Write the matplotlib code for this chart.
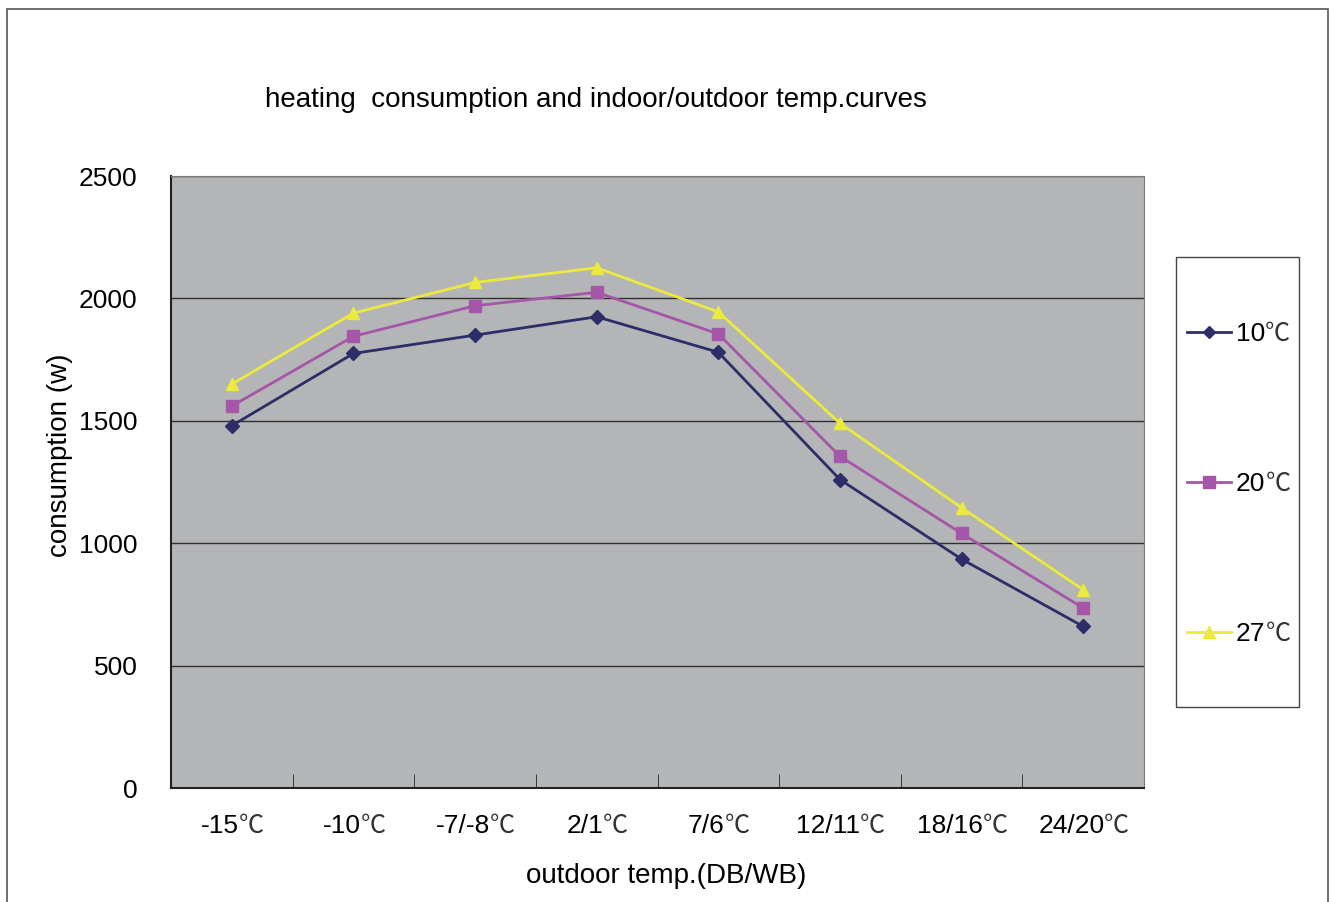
import matplotlib.pyplot as plt
from matplotlib.patches import Rectangle
from matplotlib.lines import Line2D
from matplotlib.transforms import offset_copy

# outdoor conditions (DB/WB) and heating consumption per indoor temperature
categories = ["-15", "-10", "-7/-8", "2/1", "7/6", "12/11", "18/16", "24/20"]
series_names = ["10", "20", "27"]
consumption_10 = [1480, 1775, 1850, 1925, 1780, 1260, 935, 660]
consumption_20 = [1560, 1845, 1970, 2025, 1855, 1355, 1040, 735]
consumption_27 = [1650, 1940, 2065, 2125, 1945, 1490, 1145, 810]
y_ticks = [0, 500, 1000, 1500, 2000, 2500]

FONT = ["Liberation Sans", "DejaVu Sans"]
CJK = ["Noto Sans CJK SC", "DejaVu Sans"]
plt.rcParams["font.family"] = FONT
FS = 19
DEG_W = 12  # half the width of the ℃ sign, in pixels

W, H = 1335, 902
fig = plt.figure(figsize=(W / 100, H / 100), dpi=100)

# outer chart frame
fig.patches.append(Rectangle((7 / W, -0.01), (1328 - 7) / W, 1 - 9 / H + 0.01,
                             transform=fig.transFigure, fill=False,
                             edgecolor="#555555", linewidth=1.2))

ax = fig.add_axes([171 / W, 1 - 788 / H, (1144 - 171) / W, (788 - 176) / H])
ax.set_facecolor("#b4b5b7")

x = list(range(len(categories)))
styles = [
    (consumption_10, "#2d2e68", "D", 7),
    (consumption_20, "#a656a8", "s", 9),
    (consumption_27, "#ecea3c", "^", 9),
]
for (vals, color, marker, ms), name in zip(styles, series_names):
    ax.plot(x, vals, color=color, marker=marker, markersize=ms,
            linewidth=2, label=name + "℃", zorder=3)

ax.set_xlim(-0.5, len(categories) - 0.5)
ax.set_ylim(0, 2500)
ax.set_yticks(y_ticks)
ax.set_yticklabels([str(v) for v in y_ticks], fontsize=FS)
ax.yaxis.grid(True, color="#303030", linewidth=1)
ax.set_axisbelow(True)
ax.tick_params(axis="y", length=0, pad=24)

ax.set_xticks([])
ax.set_xticks([i + 0.5 for i in x[:-1]], minor=True)
ax.tick_params(axis="x", which="minor", direction="in", length=10, color="#222222",
               labelbottom=False)

# category labels under the axis: number in the latin face, ℃ in the CJK face
cat_tr = offset_copy(ax.get_xaxis_transform(), fig=fig, x=-DEG_W, y=-38, units="dots")
for i, cat in zip(x, categories):
    t = ax.text(i, 0, cat, ha="center", va="center", fontsize=FS, transform=cat_tr)
    ax.annotate("℃", xy=(1, 0.5), xycoords=t, ha="left", va="center",
                fontsize=FS - 1, family=CJK, color="#333333")

for side in ["top", "right"]:
    ax.spines[side].set_color("#7a7a7a")
for side in ["bottom", "left"]:
    ax.spines[side].set_color("#222222")
    ax.spines[side].set_linewidth(1.5)

fig.text(596 / W, 1 - 100 / H, "heating  consumption and indoor/outdoor temp.curves",
         ha="center", va="center", fontsize=20)
fig.text(60 / W, 1 - 455 / H, "consumption (w)", ha="center", va="center",
         rotation=90, fontsize=20)
fig.text(666 / W, 1 - 876 / H, "outdoor temp.(DB/WB)", ha="center", va="center",
         fontsize=20)

# legend box on the right
lx0, lx1, ly0, ly1 = 1176, 1299, 257, 707
fig.patches.append(Rectangle((lx0 / W, 1 - ly1 / H), (lx1 - lx0) / W, (ly1 - ly0) / H,
                             transform=fig.transFigure, fill=False,
                             edgecolor="#444444", linewidth=1))
for (vals, color, marker, ms), name, yy in zip(styles, series_names, [332, 482, 632]):
    fy = 1 - yy / H
    fig.add_artist(Line2D([1187 / W, 1231 / W], [fy, fy], transform=fig.transFigure,
                          color=color, linewidth=2))
    fig.add_artist(Line2D([1209 / W], [fy], transform=fig.transFigure, color=color,
                          marker=marker, markersize=ms - 1, linestyle="none"))
    t = fig.text(1236 / W, fy - 2 / H, name, ha="left", va="center", fontsize=FS)
    fig.add_artist(plt.Annotation("℃", xy=(1, 0.5), xycoords=t, ha="left", va="center",
                                  fontsize=FS - 1, family=CJK, color="#333333"))

fig.savefig("out.png", dpi=100)
